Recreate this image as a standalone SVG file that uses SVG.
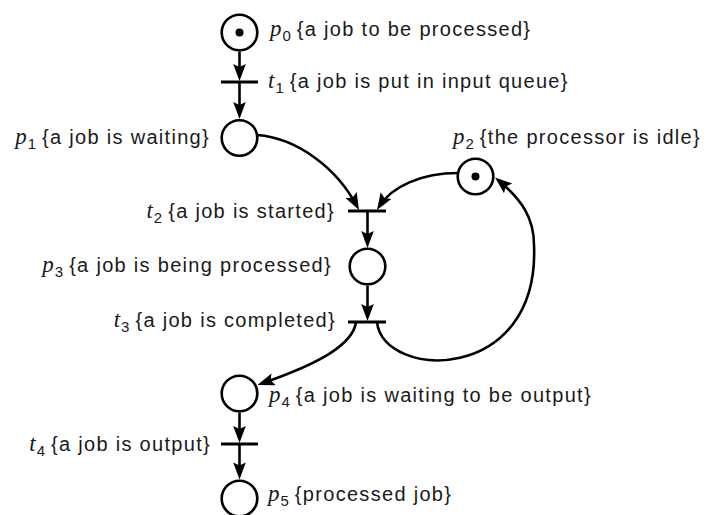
<svg xmlns="http://www.w3.org/2000/svg" width="711" height="515" viewBox="0 0 711 515">
  <defs>
    <style>
      .pl{fill:#fff;stroke:#000;stroke-width:2.6}
      .tok{fill:#000}
      .bar{stroke:#000;stroke-width:2.8}
      .arc{fill:none;stroke:#000;stroke-width:2.6;marker-end:url(#ah)}
      .lbl{font-family:"Liberation Sans",Arial,sans-serif;font-size:20px;fill:#1a1a1a}
      .v{font-family:"Liberation Serif","Times New Roman",serif;font-style:italic;font-size:23px}
      .s{font-size:15px}
      .d{letter-spacing:1.3px}
    </style>
    <!-- slightly notched arrowhead; tip sits 4px beyond the path end -->
    <marker id="ah" markerUnits="userSpaceOnUse" viewBox="-14 -7 19 14" refX="0" refY="0" markerWidth="19" markerHeight="14" orient="auto">
      <path d="M4,0 L-13,-6.3 L-10,0 L-13,6.3 Z" fill="#000"/>
    </marker>
  </defs>

  <rect width="711" height="515" fill="#fff"/>

  <!-- places -->
  <g id="p0">
    <circle class="pl" cx="239.5" cy="32.5" r="17.8"/>
    <circle class="tok" cx="239.5" cy="32.5" r="4"/>
    <text class="lbl" x="270" y="35.5"><tspan class="v">p</tspan><tspan class="s" dx="1" dy="5">0</tspan><tspan class="d" dx="6" dy="-5">{a job to be processed}</tspan></text>
  </g>
  <g id="p1">
    <circle class="pl" cx="239.5" cy="138" r="17.8"/>
    <text class="lbl" x="210" y="144" text-anchor="end"><tspan class="v">p</tspan><tspan class="s" dx="1" dy="5">1</tspan><tspan class="d" dx="6" dy="-5">{a job is waiting}</tspan></text>
  </g>
  <g id="p2">
    <circle class="pl" cx="475.5" cy="176.5" r="17.8"/>
    <circle class="tok" cx="475.5" cy="176.5" r="4"/>
    <text class="lbl" x="453" y="144"><tspan class="v">p</tspan><tspan class="s" dx="1" dy="5">2</tspan><tspan class="d" dx="6" dy="-5">{the processor is idle}</tspan></text>
  </g>
  <g id="p3">
    <circle class="pl" cx="367.5" cy="266.5" r="17.8"/>
    <text class="lbl" x="332" y="272" text-anchor="end"><tspan class="v">p</tspan><tspan class="s" dx="1" dy="5">3</tspan><tspan class="d" dx="6" dy="-5">{a job is being processed}</tspan></text>
  </g>
  <g id="p4">
    <circle class="pl" cx="239.5" cy="393.5" r="17.8"/>
    <text class="lbl" x="269" y="402"><tspan class="v">p</tspan><tspan class="s" dx="1" dy="5">4</tspan><tspan class="d" dx="6" dy="-5">{a job is waiting to be output}</tspan></text>
  </g>
  <g id="p5">
    <circle class="pl" cx="239.5" cy="498.5" r="17.8"/>
    <text class="lbl" x="268" y="501"><tspan class="v">p</tspan><tspan class="s" dx="1" dy="5">5</tspan><tspan class="d" dx="6" dy="-5">{processed job}</tspan></text>
  </g>

  <!-- transitions -->
  <g id="t1">
    <line class="bar" x1="221" y1="82" x2="258" y2="82"/>
    <text class="lbl" x="268" y="88"><tspan class="v">t</tspan><tspan class="s" dx="1" dy="5">1</tspan><tspan class="d" dx="6" dy="-5">{a job is put in input queue}</tspan></text>
  </g>
  <g id="t2">
    <line class="bar" x1="348" y1="211" x2="386" y2="211"/>
    <text class="lbl" x="335" y="218" text-anchor="end"><tspan class="v">t</tspan><tspan class="s" dx="1" dy="5">2</tspan><tspan class="d" dx="6" dy="-5">{a job is started}</tspan></text>
  </g>
  <g id="t3">
    <line class="bar" x1="348" y1="322" x2="386" y2="322"/>
    <text class="lbl" x="336" y="327" text-anchor="end"><tspan class="v">t</tspan><tspan class="s" dx="1" dy="5">3</tspan><tspan class="d" dx="6" dy="-5">{a job is completed}</tspan></text>
  </g>
  <g id="t4">
    <line class="bar" x1="221" y1="444" x2="258" y2="444"/>
    <text class="lbl" x="211" y="451" text-anchor="end"><tspan class="v">t</tspan><tspan class="s" dx="1" dy="5">4</tspan><tspan class="d" dx="6" dy="-5">{a job is output}</tspan></text>
  </g>

  <!-- arcs -->
  <g id="arcs">
    <path class="arc" d="M239.5,51.5 V77"/>
    <path class="arc" d="M239.5,82 V115"/>
    <path class="arc" d="M257,135 C297,138 337,168 357.1,206.5"/>
    <path class="arc" d="M458,173 C422,173 392,186 379.1,206.6"/>
    <path class="arc" d="M367.5,211 V244"/>
    <path class="arc" d="M367.5,285.5 V317"/>
    <path class="arc" d="M356,322 C353,345 318,364 261.2,383.6"/>
    <path class="arc" d="M377,322 C383,380 540,385 534,245 C534,218 522,200 498.1,180"/>
    <path class="arc" d="M239.5,412.5 V439"/>
    <path class="arc" d="M239.5,444 V475.5"/>
  </g>
</svg>
